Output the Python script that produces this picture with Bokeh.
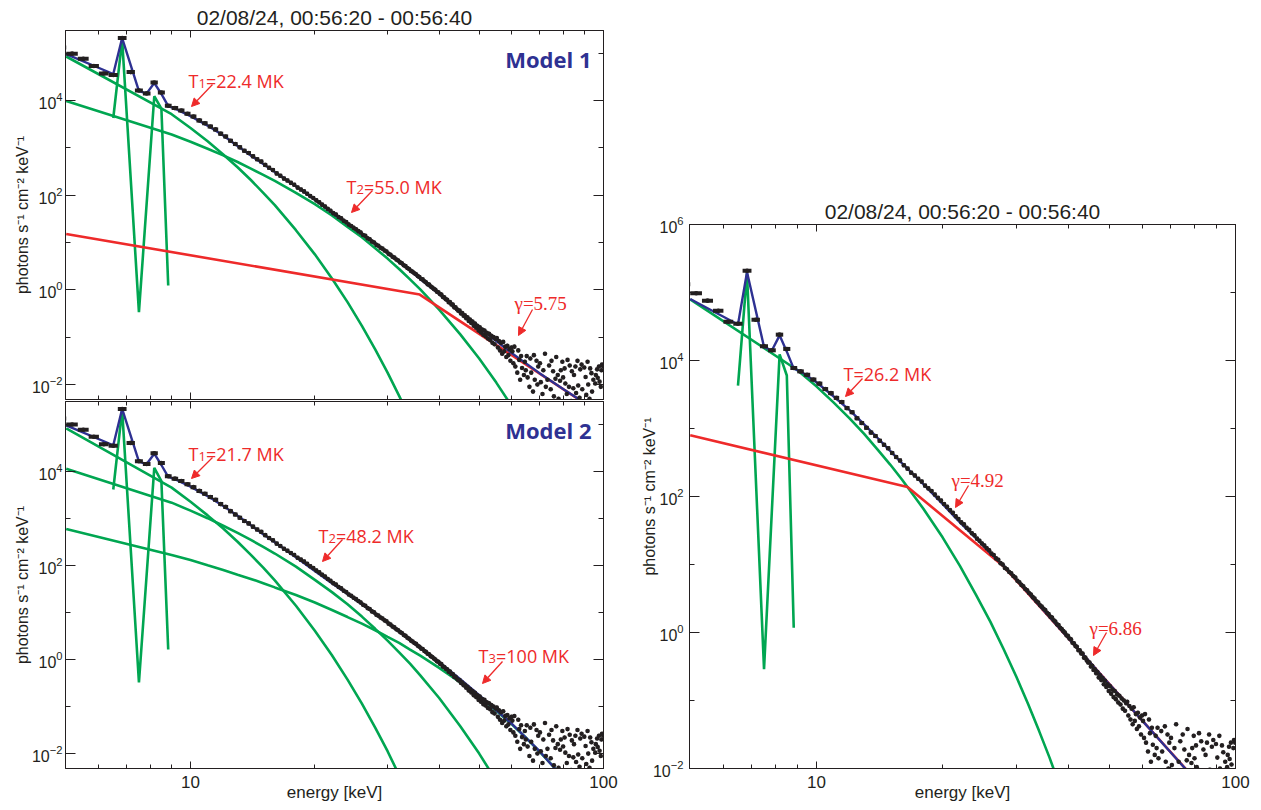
import numpy as np
from math import log10
from bokeh.plotting import figure
from bokeh.layouts import row, column
from bokeh.models import (Range1d, LogAxis, FixedTicker, Label, Arrow, NormalHead,
                          PrintfTickFormatter)
from bokeh.embed import file_html
from bokeh.resources import INLINE

# ---------------------------------------------------------------- data
TITLE = "02/08/24, 00:56:20 - 00:56:40"
BIN_START = 14.0 / 3.0          # keV, lower edge of first energy bin
BIN_WIDTH = 1.0 / 3.0           # keV

# observed photon flux, log10(photons s-1 cm-2 keV-1), one value per bin
# (None = bin with no plotted point)
data_log_flux = [
    5.12, 4.99, 4.88, 4.73, 4.57, 4.54, 5.32, 4.60, 4.21, 4.15, 4.38, 4.17, 3.89,
    3.84, 3.79, 3.72, 3.66, 3.58, 3.52, 3.45, 3.39, 3.30, 3.24,
    3.15, 3.08, 3.01, 2.94, 2.89, 2.82, 2.76, 2.71, 2.64, 2.58,
    2.53, 2.46, 2.41, 2.35, 2.31, 2.26, 2.22, 2.16, 2.12, 2.08,
    2.03, 1.98, 1.94, 1.89, 1.85, 1.80, 1.76, 1.71, 1.67, 1.62,
    1.59, 1.54, 1.51, 1.46, 1.43, 1.38, 1.35, 1.31, 1.28, 1.24,
    1.21, 1.16, 1.14, 1.09, 1.07, 1.02, 1.00, 0.95, 0.93, 0.89,
    0.87, 0.83, 0.81, 0.76, 0.74, 0.70, 0.68, 0.64, 0.62, 0.58,
    0.56, 0.52, 0.50, 0.46, 0.44, 0.40, 0.38, 0.35, 0.33, 0.29,
    0.27, 0.23, 0.22, 0.18, 0.16, 0.12, 0.11, 0.07, 0.05, 0.02,
    0.00, -0.04, -0.05, -0.09, -0.10, -0.15, -0.16, -0.20, -0.21, -0.26,
    -0.26, -0.31, -0.31, -0.37, -0.37, -0.41, -0.44, -0.44, -0.50, -0.49,
    -0.55, -0.54, -0.60, -0.58, -0.66, -0.63, -0.70, -0.67, -0.76, -0.71,
    -0.80, -0.76, -0.86,
    -0.79, -0.90, -0.84, -0.95, -0.86, -0.98, -0.91, -1.03, -0.93, -1.06,
    -0.97, -1.12, -1.00, -1.15, -1.04,
    -1.02, -1.22, -1.08, -1.28, -1.12, -1.35, -1.10, -1.30, -1.20, -1.42,
    -1.18, -1.38, -1.25, -1.50, -1.22,
    -1.30, -1.55, -1.20, -1.62, None, -1.75, -1.28, -1.48, -1.90, -1.40,
    -1.65, None, -1.80, -1.52, -1.70,
    -1.40, -1.85, None, -2.05, -1.45, -1.75, None, -2.15, -1.38, -1.90,
    None, -1.50, -2.00, -1.62, None,
    -1.55, -1.95, None, -2.20, -1.70, None, -1.35, -2.05, None, -1.90,
    -2.40, -1.60, None, -2.10, -1.50, None, -1.72, -2.25, None, -1.88,
    -1.42, None, -1.80, -2.30, None, -1.92, -1.70, None, -1.52, -1.85,
    None, -1.66, -1.98, None, -2.20, -1.48, None, -2.05, -1.60, None,
    -2.35, -1.72, None, -2.08, -1.80, None, -1.62, -2.18, None, -1.50,
    -2.02, None, -2.28, -1.68, None, -1.58, -2.10, None, -2.45, -1.64,
    None, -1.84, -2.22, None, -1.52, -2.00, None, -2.30, -1.66, None,
    -1.76, -2.15, None, -1.90, -2.40, None, -1.98, -1.80, None, -1.68,
    -1.86, None, -1.62, -1.94, None, -2.05, -1.70, -1.58, None, -1.62,
]

# model curves (log10 flux)
blue_E = [5.0, 6.5, 6.83, 7.5, 7.83, 8.17, 8.5, 8.83,
          9.17, 10, 11, 12, 13, 14, 15, 16, 18, 20, 22, 24, 26, 28, 30, 33,
          36, 40, 45, 50, 55, 60, 70, 80, 90, 100]
blue_m1 = [4.98, 4.56, 5.32, 4.20, 4.15, 4.37, 4.14, 3.88,
           3.83, 3.67, 3.47, 3.26, 3.04, 2.84, 2.66, 2.49, 2.19, 1.90, 1.63, 1.40,
           1.18, 0.98, 0.78, 0.50, 0.23, -0.09, -0.46, -0.80, -1.08, -1.34, -1.76,
           -2.10, -2.39, -2.66]
blue_m2 = [4.97, 4.55, 5.32, 4.20, 4.15, 4.37, 4.13, 3.88,
           3.83, 3.67, 3.47, 3.26, 3.05, 2.85, 2.66, 2.49, 2.17, 1.88, 1.62, 1.39,
           1.17, 0.97, 0.78, 0.51, 0.26, -0.06, -0.42, -0.76, -1.08, -1.37, -1.95,
           -2.52, -3.10, -3.60]
blue_m3 = [4.905, 4.53, 5.30, 4.20, 4.147, 4.37, 4.13, 3.88,
           3.84, 3.68, 3.47, 3.27, 3.06, 2.86, 2.67, 2.49, 2.18, 1.89, 1.62, 1.39,
           1.17, 0.98, 0.78, 0.49, 0.23, -0.09, -0.44, -0.76, -1.04, -1.30, -1.76,
           -2.16, -2.51, -2.82]

cont_E = [5.0, 9.0, 10, 11, 12, 13, 14, 15, 16, 18, 20, 22, 24, 26, 28, 30,
          32, 34, 36, 40, 45, 50, 55, 60, 65, 70, 75, 80]
m1_T1 = [4.93, 3.71, 3.42, 3.14, 2.86, 2.59, 2.32, 2.05, 1.79, 1.26, 0.75, 0.24,
         -0.26, -0.76, -1.26, -1.75, -2.24, -2.72]
m1_T2 = [3.99, 3.28, 3.13, 2.98, 2.84, 2.70, 2.56, 2.43, 2.30, 2.05, 1.81, 1.57,
         1.33, 1.11, 0.88, 0.66, 0.44, 0.22, 0.01, -0.42, -0.94, -1.45, -1.96, -2.46]
m2_T1 = [4.91, 3.65, 3.35, 3.06, 2.78, 2.50, 2.22, 1.95, 1.68, 1.14, 0.61, 0.09,
         -0.43, -0.94, -1.45, -1.95, -2.46]
m2_T2 = [4.05, 3.33, 3.16, 3.00, 2.84, 2.69, 2.54, 2.39, 2.25, 1.97, 1.69, 1.43,
         1.17, 0.91, 0.65, 0.40, 0.15, -0.09, -0.34, -0.82, -1.42, -2.00, -2.58]
m2_T3 = [2.77, 2.22, 2.11, 2.00, 1.90, 1.80, 1.71, 1.62, 1.53, 1.37, 1.21, 1.05,
         0.90, 0.76, 0.62, 0.48, 0.35, 0.21, 0.08, -0.18, -0.49, -0.79, -1.09,
         -1.38, -1.67, -1.96, -2.24, -2.52]
m3_T = [4.90, 3.86, 3.62, 3.38, 3.15, 2.92, 2.69, 2.47, 2.25, 1.82, 1.40, 0.98,
        0.56, 0.16, -0.25, -0.65, -1.05, -1.45, -1.84, -2.62]

line_E = [6.5, 6.83, 7.5, 8.17, 8.5, 8.83]
m1_lines = [3.63, 5.28, -0.47, 4.09, 3.83, 0.09]
m2_lines = [3.61, 5.30, -0.49, 4.07, 3.79, 0.21]
m3_lines = [3.63, 5.28, -0.54, 4.09, 3.78, 0.07]

m1_pl_E = [5.0, 35.9, 100]
m1_pl = [1.18, -0.10, -2.66]
m3_pl_E = [5.0, 16.5, 28.0, 100]
m3_pl = [2.90, 2.14, 0.97, -2.82]

x_major = [10, 100]
x_minor = [6, 7, 8, 9, 20, 30, 40, 50, 60, 70, 80, 90]

# ---------------------------------------------------------------- style
RED = "#EE2A2A"
GREEN = "#00A651"
BLUE = "#2E3192"
BLACK = "#231F20"
SANS = "Liberation Sans"
NOTE = "Open Sans"
SERIF = "Liberation Serif"

X_RANGE = (4.98, 100.0)
LEFT_Y = (10 ** -2.317, 10 ** 5.479)
RIGHT_Y = (1e-2, 1e6)

# frame geometry in page pixels: (left, right, top, bottom, xrange, yrange)
G1 = (65, 603, 30, 399, X_RANGE, LEFT_Y)
G2 = (65, 603, 401, 768, X_RANGE, LEFT_Y)
G3 = (689, 1235, 224, 768, X_RANGE, RIGHT_Y)


def at(geom, px, py):
    fx0, fx1, fy0, fy1, (xlo, xhi), (ylo, yhi) = geom
    lx = log10(xlo) + (px - fx0) / (fx1 - fx0) * (log10(xhi) - log10(xlo))
    ly = log10(yhi) - (py - fy0) / (fy1 - fy0) * (log10(yhi) - log10(ylo))
    return 10 ** lx, 10 ** ly


def style_axis(ax, tin, min_in, labels, standoff=3, size="16px"):
    ax.axis_line_color = BLACK
    ax.axis_line_width = 1
    ax.major_tick_in = tin
    ax.major_tick_out = 0
    ax.minor_tick_in = min_in
    ax.minor_tick_out = 0
    ax.major_tick_line_color = BLACK
    ax.minor_tick_line_color = BLACK
    ax.major_tick_line_width = 1
    ax.minor_tick_line_width = 1
    if labels:
        ax.major_label_text_font = SANS
        ax.major_label_text_font_size = size
        ax.major_label_text_color = BLACK
        ax.major_label_standoff = standoff
    else:
        ax.major_label_text_font_size = "1px"
        ax.major_label_text_alpha = 0
        ax.major_label_standoff = 0


def make_fig(width, height, yrange, ymaj, ymin, borders, xlabels, ylabel_standoff,
             ytitle_standoff, title=None):
    l, r, t, b = borders
    p = figure(width=width, height=height, x_axis_type="log", y_axis_type="log",
               x_range=Range1d(*X_RANGE), y_range=Range1d(*yrange),
               output_backend="svg", toolbar_location=None,
               min_border_left=l, min_border_right=r, min_border_top=t,
               min_border_bottom=b, title=title)
    p.grid.visible = False
    p.background_fill_color = "white"
    p.border_fill_color = "white"
    p.outline_line_color = BLACK
    p.outline_line_width = 1
    if title:
        p.title.text_font = SANS
        p.title.text_font_size = "21px"
        p.title.text_font_style = "normal"
        p.title.text_color = BLACK
        p.title.align = "center"
        p.title.standoff = 3

    bx = p.xaxis[0]
    bx.ticker = FixedTicker(ticks=x_major, minor_ticks=x_minor)
    style_axis(bx, 7, 4, xlabels, standoff=7, size="17px")
    if xlabels:
        bx.formatter = PrintfTickFormatter(format="%d")
        bx.axis_label = "energy [keV]"
        bx.axis_label_text_font = SANS
        bx.axis_label_text_font_size = "17px"
        bx.axis_label_text_font_style = "normal"
        bx.axis_label_text_color = BLACK
        bx.axis_label_standoff = -8
    ly = p.yaxis[0]
    ly.ticker = FixedTicker(ticks=ymaj, minor_ticks=ymin)
    style_axis(ly, 10, 5, True, standoff=ylabel_standoff)
    ly.axis_label = "photons s\u207b\u00b9 cm\u207b\u00b2 keV\u207b\u00b9"
    ly.axis_label_text_font = SANS
    ly.axis_label_text_font_size = "16px"
    ly.axis_label_text_font_style = "normal"
    ly.axis_label_text_color = BLACK
    ly.axis_label_standoff = ytitle_standoff

    top = LogAxis(ticker=FixedTicker(ticks=x_major, minor_ticks=x_minor))
    style_axis(top, 7, 4, False)
    p.add_layout(top, "above")
    right = LogAxis(ticker=FixedTicker(ticks=ymaj, minor_ticks=ymin))
    style_axis(right, 10, 5, False)
    p.add_layout(right, "right")
    return p


def L(v):
    return 10.0 ** np.array([np.nan if a is None else a for a in v], dtype=float)


n_bins = len(data_log_flux)
bin_lo = BIN_START + BIN_WIDTH * np.arange(n_bins)
bin_hi = bin_lo + BIN_WIDTH
bin_mid = bin_lo + BIN_WIDTH / 2
flux = L(data_log_flux)
shown = ~np.isnan(flux)


def draw(p, blue, thermals, lines, pl_E=None, pl=None):
    for vals in thermals:
        p.line(cont_E[:len(vals)], L(vals), line_color=GREEN, line_width=2.6)
    p.line(line_E, L(lines), line_color=GREEN, line_width=2.6)
    if pl is not None:
        p.line(pl_E, L(pl), line_color=RED, line_width=2.6)
    p.line(blue_E, L(blue), line_color=BLUE, line_width=2.4)
    p.segment(bin_lo[shown], flux[shown], bin_hi[shown], flux[shown],
              line_color=BLACK, line_width=4)
    p.scatter(bin_mid[shown], flux[shown], size=4.6, fill_color=BLACK, line_color=None)


def text(p, geom, px, py, s, font=NOTE, size="18px", color=RED, align="left",
         style="normal"):
    x, y = at(geom, px, py)
    p.add_layout(Label(x=x, y=y, text=s, text_font=font, text_font_size=size,
                       text_color=color, text_align=align,
                       text_baseline="alphabetic", text_font_style=style))


def t_label(p, geom, px, py, sub, rest):
    text(p, geom, px, py, "T")
    text(p, geom, px + 10, py + 3, sub, size="13px")
    text(p, geom, px + 17.5, py, rest)


def arrow(p, geom, sx, sy, ex, ey):
    x0, y0 = at(geom, sx, sy)
    x1, y1 = at(geom, ex, ey)
    p.add_layout(Arrow(end=NormalHead(size=8, fill_color=RED, line_color=RED,
                                      line_width=1),
                       x_start=x0, y_start=y0, x_end=x1, y_end=y1,
                       line_color=RED, line_width=1.3))


left_maj = [1e-2, 1, 1e2, 1e4]
left_min = [1e-1, 1e1, 1e3, 1e5]

# ---------------- panel 1 (Model 1)
p1 = make_fig(619, 400, LEFT_Y, left_maj, left_min, (65, 16, 30, 1), False, 3, -2,
              title=TITLE)
draw(p1, blue_m1, [m1_T1, m1_T2], m1_lines, m1_pl_E, m1_pl)
text(p1, G1, 591, 58, "Model 1", size="22px", color=BLUE, align="right", style="bold")
t_label(p1, G1, 188, 80, "1", "=22.4 MK")
arrow(p1, G1, 212, 84, 191, 106)
t_label(p1, G1, 346, 186, "2", "=55.0 MK")
arrow(p1, G1, 372, 190, 351, 212)
text(p1, G1, 514, 303, "\u03b3=5.75", font=SERIF, size="19px")
arrow(p1, G1, 532, 309, 518, 335)

# ---------------- panel 2 (Model 2)
p2 = make_fig(619, 408, LEFT_Y, left_maj, left_min, (65, 16, 1, 40), True, 3, -2)
draw(p2, blue_m2, [m2_T1, m2_T2, m2_T3], m2_lines)
text(p2, G2, 591, 429, "Model 2", size="22px", color=BLUE, align="right", style="bold")
t_label(p2, G2, 188, 453, "1", "=21.7 MK")
arrow(p2, G2, 212, 457, 191, 478)
t_label(p2, G2, 318, 535, "2", "=48.2 MK")
arrow(p2, G2, 342, 539, 322, 561)
t_label(p2, G2, 478, 655, "3", "=100 MK")
arrow(p2, G2, 502, 661, 482, 683)

# ---------------- panel 3 (thermal + broken power law)
p3 = make_fig(636, 808, RIGHT_Y, [1e-2, 1, 1e2, 1e4, 1e6], [1e-1, 1e1, 1e3, 1e5],
              (70, 20, 224, 40), True, 6, -8, title=TITLE)
draw(p3, blue_m3, [m3_T], m3_lines, m3_pl_E, m3_pl)
text(p3, G3, 843, 373, "T=26.2 MK")
arrow(p3, G3, 862, 378, 845, 396)
text(p3, G3, 951, 480, "\u03b3=4.92", font=SERIF, size="19px")
arrow(p3, G3, 968, 485, 955, 507)
text(p3, G3, 1089, 628, "\u03b3=6.86", font=SERIF, size="19px")
arrow(p3, G3, 1106, 632, 1093, 655)

layout = row(column(p1, p2), p3)
open("out.html", "w").write(file_html(layout, INLINE))
